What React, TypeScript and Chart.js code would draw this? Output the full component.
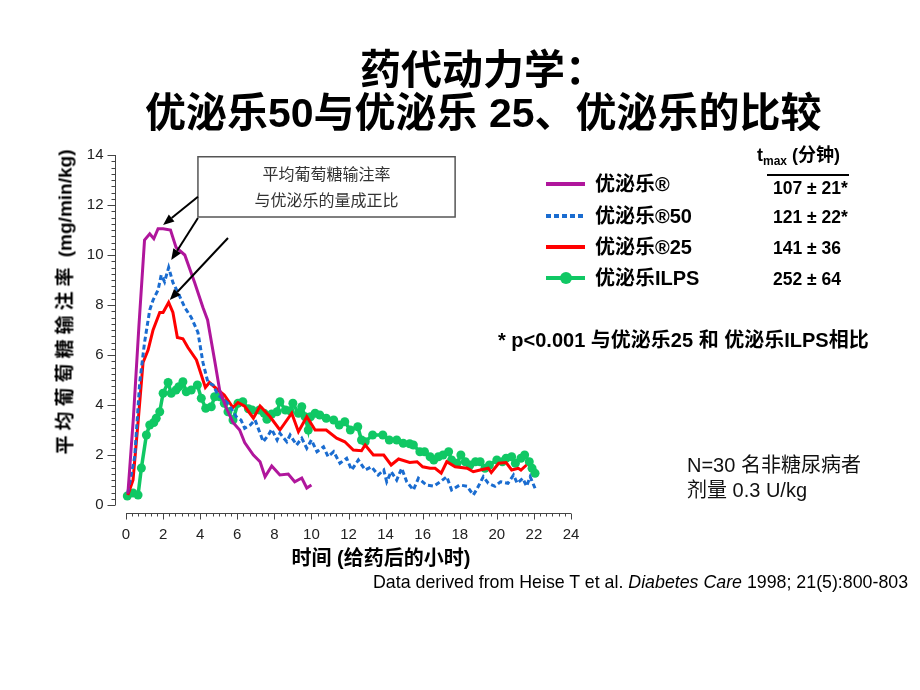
import React, { useEffect, useRef } from "react";
import { Chart, registerables } from "chart.js";
Chart.register(...registerables);

// ---------- data (hours, mg/min/kg) ----------
const humalogT = [0.1, 0.4, 0.7, 1.0, 1.28, 1.5, 1.73, 2.0, 2.4, 2.7, 3.17, 3.7, 4.15, 4.4, 4.8, 5.05, 5.4, 5.77, 6.13, 6.4, 6.87, 7.23, 7.5, 7.86, 8.3, 8.75, 9.1, 9.48, 9.75, 10.0];
const humalogV = [0.45, 3.5, 7.2, 10.6, 10.85, 10.65, 11.05, 11.05, 11.0, 10.3, 10.0, 8.9, 7.9, 7.4, 5.7, 4.6, 3.9, 3.3, 3.0, 2.5, 2.0, 1.73, 1.13, 1.56, 1.2, 1.24, 0.93, 1.08, 0.68, 0.8];

const mix50T = [0.1, 0.47, 0.74, 1.0, 1.28, 1.46, 1.73, 1.9, 2.08, 2.3, 2.53, 2.8, 3.17, 3.52, 3.88, 4.15, 4.42, 4.7, 4.96, 5.5, 5.95, 6.2, 6.4, 6.7, 6.96, 7.23, 7.4, 7.68, 7.86, 8.15, 8.3, 8.67, 8.85, 9.2, 9.48, 9.75, 10.0, 10.3, 10.65, 10.9, 11.2, 11.54, 11.9, 12.17, 12.53, 12.9, 13.24, 13.6, 13.9, 14.06, 14.3, 14.6, 14.87, 15.14, 15.5, 15.77, 16.2, 16.6, 16.95, 17.3, 17.56, 18.0, 18.4, 18.73, 18.9, 19.27, 19.54, 19.9, 20.2, 20.6, 20.9, 21.1, 21.4, 21.6, 21.8, 22.06];
const mix50V = [0.5, 1.93, 4.9, 6.5, 7.8, 8.2, 8.6, 9.2, 8.93, 9.5, 8.9, 8.5, 7.9, 7.5, 6.9, 5.7, 4.9, 4.8, 4.4, 4.07, 3.53, 3.4, 3.07, 3.2, 3.4, 2.87, 2.53, 2.8, 3.03, 2.6, 2.87, 2.53, 2.8, 2.4, 2.67, 2.27, 2.6, 2.13, 2.33, 1.93, 2.13, 1.67, 1.87, 1.4, 1.8, 1.4, 1.53, 1.2, 1.4, 0.93, 1.33, 1.0, 1.47, 0.93, 0.6, 1.07, 0.8, 0.75, 0.93, 1.13, 0.6, 0.8, 0.75, 0.4, 0.6, 1.13, 0.87, 0.75, 0.93, 0.87, 1.2, 0.87, 1.07, 0.75, 1.13, 0.67];

const mix25T = [0.1, 0.38, 0.65, 0.92, 1.19, 1.46, 1.82, 2.0, 2.3, 2.53, 2.77, 3.07, 3.34, 3.8, 4.28, 4.5, 4.96, 5.3, 5.77, 6.04, 6.4, 6.87, 7.23, 7.77, 8.3, 8.94, 9.3, 9.75, 10.2, 10.8, 11.36, 11.8, 12.26, 12.7, 12.9, 13.34, 13.9, 14.3, 14.7, 15.3, 15.7, 16.0, 16.4, 16.67, 17.0, 17.3, 17.75, 18.4, 18.73, 19.1, 19.54, 19.7, 20.1, 20.5, 20.8, 21.16, 21.3, 21.6];
const mix25V = [0.4, 1.0, 3.3, 5.7, 6.2, 7.0, 7.7, 7.7, 8.1, 7.7, 6.7, 6.65, 6.3, 5.8, 4.7, 4.9, 4.6, 4.4, 3.9, 4.1, 3.95, 3.47, 3.96, 3.53, 3.0, 3.67, 2.93, 3.53, 3.0, 3.0, 2.67, 2.53, 2.2, 2.17, 2.4, 2.0, 2.0, 1.6, 1.84, 1.7, 1.73, 1.53, 1.47, 1.47, 1.27, 1.73, 1.53, 1.47, 1.33, 1.4, 1.47, 1.3, 1.67, 1.7, 1.4, 1.47, 1.4, 1.6];

const ilpsT = [0.07, 0.38, 0.65, 0.83, 1.1, 1.28, 1.5, 1.63, 1.82, 2.0, 2.27, 2.44, 2.7, 2.85, 3.07, 3.25, 3.52, 3.85, 4.06, 4.3, 4.6, 4.78, 5.05, 5.3, 5.5, 5.77, 6.04, 6.3, 6.6, 6.8, 7.2, 7.45, 7.6, 7.86, 8.15, 8.3, 8.6, 8.85, 9.0, 9.3, 9.48, 9.66, 9.83, 9.95, 10.2, 10.45, 10.8, 11.2, 11.5, 11.8, 12.1, 12.5, 12.7, 12.9, 13.3, 13.85, 14.2, 14.6, 14.95, 15.3, 15.5, 15.85, 16.1, 16.4, 16.6, 16.85, 17.1, 17.4, 17.56, 17.85, 18.06, 18.3, 18.55, 18.85, 19.1, 19.36, 19.6, 20.0, 20.3, 20.5, 20.8, 21.0, 21.3, 21.5, 21.75, 21.9, 22.06];
const ilpsV = [0.36, 0.48, 0.4, 1.48, 2.8, 3.2, 3.3, 3.47, 3.73, 4.47, 4.9, 4.47, 4.6, 4.73, 4.93, 4.53, 4.6, 4.8, 4.27, 3.87, 3.93, 4.33, 4.33, 4.07, 3.73, 3.4, 4.07, 4.13, 3.85, 3.8, 3.8, 3.67, 3.43, 3.64, 3.73, 4.13, 3.8, 3.77, 4.07, 3.67, 3.93, 3.53, 3.0, 3.53, 3.67, 3.6, 3.47, 3.4, 3.2, 3.33, 3.0, 3.13, 2.6, 2.53, 2.8, 2.8, 2.6, 2.6, 2.47, 2.45, 2.4, 2.13, 2.13, 1.93, 1.8, 1.93, 2.0, 2.13, 1.8, 1.67, 2.0, 1.73, 1.6, 1.73, 1.73, 1.47, 1.6, 1.8, 1.73, 1.87, 1.93, 1.67, 1.87, 2.0, 1.73, 1.47, 1.27];

const seriesNames = ["优泌乐®", "优泌乐®50", "优泌乐®25", "优泌乐ILPS"];
const tmaxValues = ["107 ± 21*", "121 ± 22*", "141 ± 36", "252 ± 64"];
const xTickLabels = ["0", "2", "4", "6", "8", "10", "12", "14", "16", "18", "20", "22", "24"];
const yTickLabels = ["0", "2", "4", "6", "8", "10", "12", "14"];
const annotationLines = ["平均葡萄糖输注率", "与优泌乐的量成正比"];

// annotation geometry in data units (hours, rate)
const boxCorners = { t0: 3.88, t1: 17.75, v0: 13.93, v1: 11.52 };
const arrows = [
  { t0: 3.88, v0: 12.33, t1: 2.0, v1: 11.2 },
  { t0: 3.88, v0: 11.48, t1: 2.44, v1: 9.8 },
  { t0: 5.5, v0: 10.68, t1: 2.36, v1: 8.2 },
];

const MAGENTA = "#b0169c";
const BLUE = "#1a6cd0";
const RED = "#ff0000";
const GREEN = "#10c864";

const zip = (t: number[], v: number[]) => t.map((x, i) => ({ x, y: v[i] }));

const SANS = "'Liberation Sans', 'Noto Sans CJK SC', Arial, sans-serif";

const axesPlugin = {
  id: "customAxes",
  afterDraw(chart: any) {
    const { ctx } = chart;
    const x = chart.scales.x;
    const y = chart.scales.y;
    ctx.save();
    ctx.strokeStyle = "#444";
    ctx.fillStyle = "#222";
    ctx.lineWidth = 1;
    // y axis (offset left)
    const ax = Math.round(x.getPixelForValue(0)) - 10.5;
    ctx.beginPath();
    ctx.moveTo(ax, y.getPixelForValue(14));
    ctx.lineTo(ax, y.getPixelForValue(0));
    ctx.stroke();
    for (let i = 0; i <= 56; i++) {
      const v = i * 0.25;
      const py = Math.round(y.getPixelForValue(v)) + 0.5;
      const major = i % 8 === 0;
      ctx.beginPath();
      ctx.moveTo(ax - (major ? 8 : 4), py);
      ctx.lineTo(ax, py);
      ctx.stroke();
    }
    ctx.font = `15px ${SANS}`;
    ctx.textAlign = "right";
    ctx.textBaseline = "middle";
    yTickLabels.forEach((lab) => {
      ctx.fillText(lab, ax - 12, y.getPixelForValue(Number(lab)));
    });
    // x axis (offset down)
    const ay = Math.round(y.getPixelForValue(0)) + 8.5;
    ctx.beginPath();
    ctx.moveTo(x.getPixelForValue(0), ay);
    ctx.lineTo(x.getPixelForValue(24), ay);
    ctx.stroke();
    for (let i = 0; i <= 72; i++) {
      const t = i / 3;
      const px = Math.round(x.getPixelForValue(t)) + 0.5;
      const major = i % 6 === 0;
      ctx.beginPath();
      ctx.moveTo(px, ay);
      ctx.lineTo(px, ay + (major ? 6 : 3));
      ctx.stroke();
    }
    ctx.textAlign = "center";
    xTickLabels.forEach((lab) => {
      ctx.fillText(lab, x.getPixelForValue(Number(lab)), ay + 21);
    });

    // annotation box
    const bx0 = x.getPixelForValue(boxCorners.t0);
    const bx1 = x.getPixelForValue(boxCorners.t1);
    const by0 = y.getPixelForValue(boxCorners.v0);
    const by1 = y.getPixelForValue(boxCorners.v1);
    ctx.fillStyle = "#ffffff";
    ctx.fillRect(bx0, by0, bx1 - bx0, by1 - by0);
    ctx.strokeStyle = "#555";
    ctx.lineWidth = 1.5;
    ctx.strokeRect(bx0, by0, bx1 - bx0, by1 - by0);
    ctx.fillStyle = "#333";
    ctx.font = `16px 'Noto Sans CJK SC', serif`;
    ctx.textAlign = "center";
    ctx.textBaseline = "middle";
    const cx = (bx0 + bx1) / 2;
    ctx.fillText(annotationLines[0], cx, by0 + 17);
    ctx.fillText(annotationLines[1], cx, by0 + 43);

    // arrows
    ctx.strokeStyle = "#000";
    ctx.fillStyle = "#000";
    ctx.lineWidth = 2;
    arrows.forEach((a) => {
      const x0 = x.getPixelForValue(a.t0);
      const y0 = y.getPixelForValue(a.v0);
      const x1 = x.getPixelForValue(a.t1);
      const y1 = y.getPixelForValue(a.v1);
      const ang = Math.atan2(y1 - y0, x1 - x0);
      const hl = 11, hw = 4.5;
      const bxp = x1 - hl * Math.cos(ang);
      const byp = y1 - hl * Math.sin(ang);
      ctx.beginPath();
      ctx.moveTo(x0, y0);
      ctx.lineTo(bxp, byp);
      ctx.stroke();
      ctx.beginPath();
      ctx.moveTo(x1, y1);
      ctx.lineTo(bxp + hw * Math.sin(ang), byp - hw * Math.cos(ang));
      ctx.lineTo(bxp - hw * Math.sin(ang), byp + hw * Math.cos(ang));
      ctx.closePath();
      ctx.fill();
    });
    ctx.restore();
  },
};

function ChartCanvas() {
  const ref = useRef<HTMLCanvasElement | null>(null);
  useEffect(() => {
    if (!ref.current) return;
    const chart = new Chart(ref.current, {
      type: "line",
      data: {
        datasets: [
          { label: seriesNames[0], data: zip(humalogT, humalogV), borderColor: MAGENTA, borderWidth: 3, pointRadius: 0, tension: 0, clip: false } as any,
          { label: seriesNames[1], data: zip(mix50T, mix50V), borderColor: BLUE, borderWidth: 3, borderDash: [5, 3], pointRadius: 0, tension: 0, clip: false } as any,
          { label: seriesNames[2], data: zip(mix25T, mix25V), borderColor: RED, borderWidth: 3, pointRadius: 0, tension: 0, clip: false } as any,
          { label: seriesNames[3], data: zip(ilpsT, ilpsV), borderColor: GREEN, backgroundColor: GREEN, borderWidth: 3.5, pointRadius: 4.5, pointBorderWidth: 0, pointBackgroundColor: GREEN, tension: 0, clip: false } as any,
        ],
      },
      options: {
        responsive: false,
        animation: false,
        devicePixelRatio: 1,
        layout: { padding: { left: 126, right: 349, top: 155, bottom: 185 } },
        plugins: { legend: { display: false }, tooltip: { enabled: false } },
        scales: {
          x: { type: "linear", min: 0, max: 24, display: false },
          y: { type: "linear", min: 0, max: 14, display: false },
        },
      },
      plugins: [axesPlugin],
    });
    return () => chart.destroy();
  }, []);
  return <canvas ref={ref} width={920} height={690} style={{ position: "absolute", left: 0, top: 0 }} />;
}

const abs = (extra: React.CSSProperties): React.CSSProperties => ({
  position: "absolute",
  whiteSpace: "nowrap",
  fontFamily: SANS,
  color: "#000",
  lineHeight: 1,
  ...extra,
});

function LegendSwatch({ i }: { i: number }) {
  const top = 0;
  if (i === 1) {
    return <div style={{ position: "absolute", left: 0, top: top - 2, width: 39, height: 4, background: `repeating-linear-gradient(90deg, ${BLUE} 0 5px, transparent 5px 8px)` }} />;
  }
  const col = i === 0 ? MAGENTA : i === 2 ? RED : GREEN;
  return (
    <>
      <div style={{ position: "absolute", left: 0, top: top - 2, width: 39, height: 4, background: col }} />
      {i === 3 && <div style={{ position: "absolute", left: 14, top: top - 6, width: 12, height: 12, borderRadius: 6, background: col }} />}
    </>
  );
}

export default function App() {
  const rowY = [184, 216, 247, 278];
  const valY = [189, 218, 249, 280];
  return (
    <div style={{ position: "fixed", left: 0, top: 0, width: 920, height: 690, background: "#fff", overflow: "hidden" }}>
      <ChartCanvas />
      <div style={abs({ left: 360, top: 50, fontSize: 41, fontWeight: 700 })}>药代动力学：</div>
      <div style={abs({ left: 145, top: 93, fontSize: 41, fontWeight: 700 })}>优泌乐50与优泌乐 25、优泌乐的比较</div>

      <div style={abs({ left: 65, top: 302, fontSize: 19, fontWeight: 700, transform: "translate(-50%, -50%) rotate(-90deg)" })}>
        <span style={{ letterSpacing: 5 }}>平均葡萄糖输注率</span> (mg/min/kg)
      </div>
      <div style={abs({ left: 381, top: 558, fontSize: 20, fontWeight: 700, transform: "translate(-50%, -50%)" })}>时间 (给药后的小时)</div>
      <div style={abs({ left: 373, top: 574, fontSize: 17.8 })}>
        Data derived from Heise T et al. <i>Diabetes Care</i> 1998; 21(5):800-803
      </div>

      <div style={abs({ left: 757, top: 146, fontSize: 18, fontWeight: 700 })}>
        t<sub style={{ fontSize: 12, verticalAlign: "-4px" }}>max</sub> (分钟)
      </div>
      <div style={{ position: "absolute", left: 767, top: 174, width: 82, height: 1.5, background: "#000" }} />
      {seriesNames.map((name, i) => (
        <React.Fragment key={name}>
          <div style={{ position: "absolute", left: 546, top: rowY[i], width: 39, height: 0 }}>
            <LegendSwatch i={i} />
          </div>
          <div style={abs({ left: 595, top: rowY[i], fontSize: 20, fontWeight: 700, transform: "translateY(-50%)" })}>{name}</div>
          <div style={abs({ left: 773, top: valY[i], fontSize: 17.5, fontWeight: 700, transform: "translateY(-50%)" })}>{tmaxValues[i]}</div>
        </React.Fragment>
      ))}

      <div style={abs({ left: 498, top: 340, fontSize: 20, fontWeight: 700, transform: "translateY(-50%)" })}>* p&lt;0.001 与优泌乐25 和 优泌乐ILPS相比</div>
      <div style={abs({ left: 687, top: 465, fontSize: 20, color: "#111", transform: "translateY(-50%)" })}>N=30 名非糖尿病者</div>
      <div style={abs({ left: 687, top: 490, fontSize: 20, color: "#111", transform: "translateY(-50%)" })}>剂量 0.3 U/kg</div>
    </div>
  );
}
